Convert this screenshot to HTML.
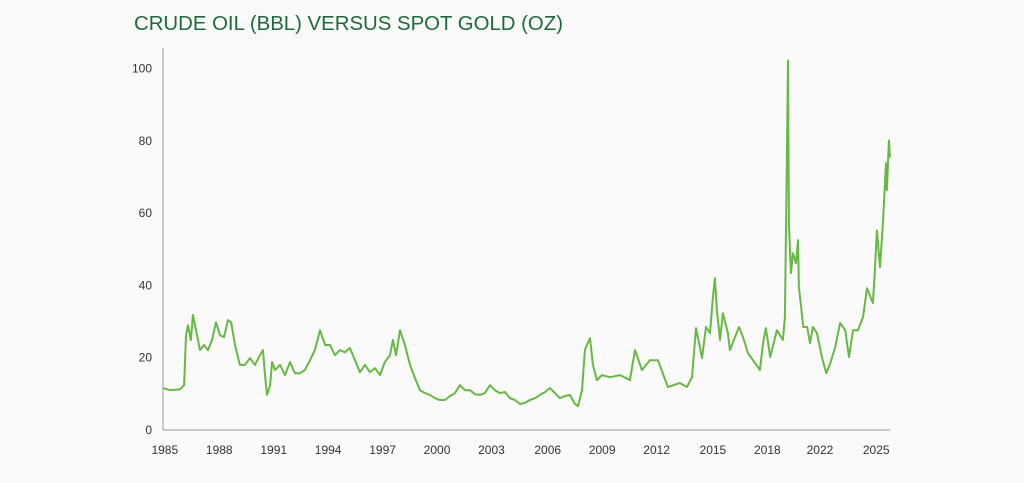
<!DOCTYPE html>
<html><head><meta charset="utf-8"><style>
body{margin:0;background:#fafafa;width:1024px;height:478px;overflow:hidden;font-family:"Liberation Sans",sans-serif}
</style></head><body>
<svg id="chart" width="1024" height="478" xmlns="http://www.w3.org/2000/svg">
<rect width="1024" height="478" fill="#fafafa"/>
<text x="134" y="30" font-size="20" textLength="429" lengthAdjust="spacingAndGlyphs" fill="#1e6b38">CRUDE OIL (BBL) VERSUS SPOT GOLD (OZ)</text>
<g id="axes"></g>
<path id="series" fill="none" stroke="#68b846" stroke-width="2" stroke-linejoin="round"/>
</svg>
<script>
const times=[1985.00,1985.39,1985.94,1986.16,1986.27,1986.38,1986.54,1986.65,1986.82,1987.04,1987.26,1987.48,1987.70,1987.92,1988.14,1988.36,1988.58,1988.75,1988.97,1989.24,1989.52,1989.79,1990.07,1990.34,1990.51,1990.62,1990.73,1990.90,1991.01,1991.17,1991.45,1991.72,1992.00,1992.27,1992.55,1992.82,1993.10,1993.37,1993.65,1993.93,1994.20,1994.48,1994.75,1995.03,1995.30,1995.58,1995.85,1996.13,1996.40,1996.68,1996.96,1997.23,1997.51,1997.67,1997.84,1998.06,1998.33,1998.61,1998.88,1999.16,1999.44,1999.71,1999.99,2000.26,2000.54,2000.81,2001.09,2001.36,2001.64,2001.91,2002.19,2002.47,2002.74,2003.02,2003.29,2003.57,2003.84,2004.12,2004.39,2004.67,2004.94,2005.22,2005.50,2005.77,2006.05,2006.32,2006.60,2006.87,2007.15,2007.42,2007.70,2007.87,2008.09,2008.25,2008.36,2008.53,2008.69,2008.91,2009.19,2009.63,2010.18,2010.73,2011.01,2011.39,2011.83,2012.27,2012.82,2013.48,2013.87,2014.15,2014.37,2014.70,2014.92,2015.14,2015.30,2015.41,2015.52,2015.69,2015.85,2016.13,2016.24,2016.52,2016.74,2016.96,2017.23,2017.51,2017.89,2018.06,2018.22,2018.46,2018.83,2019.16,2019.27,2019.38,2019.44,2019.49,2019.60,2019.71,2019.88,2019.99,2020.04,2020.28,2020.50,2020.65,2020.81,2021.03,2021.31,2021.55,2021.77,2022.04,2022.31,2022.59,2022.80,2023.02,2023.29,2023.57,2023.79,2024.12,2024.23,2024.34,2024.51,2024.67,2024.84,2024.89,2025.00,2025.06];
const ratios=[11.6,11.0,11.3,12.4,26.2,29.0,24.9,31.8,27.6,22.1,23.5,22.1,24.9,29.8,26.2,25.7,30.4,29.8,23.5,18.0,18.0,19.9,18.0,20.7,22.1,15.2,9.7,12.4,18.8,16.6,18.0,15.2,18.8,15.7,15.7,16.6,19.3,22.1,27.6,23.5,23.5,20.7,22.1,21.5,22.7,19.3,16.0,18.0,16.0,17.1,15.2,18.8,20.7,24.9,20.7,27.6,23.5,18.0,14.4,11.0,10.2,9.7,8.8,8.3,8.3,9.4,10.2,12.4,11.0,11.0,9.9,9.7,10.2,12.4,11.0,10.2,10.5,8.8,8.3,7.2,7.5,8.3,8.8,9.7,10.5,11.6,10.2,8.8,9.4,9.7,7.2,6.6,11.0,22.1,23.5,25.4,18.0,13.8,15.2,14.6,15.2,13.8,22.1,16.6,19.3,19.3,11.9,13.0,11.9,14.6,28.2,19.9,28.5,26.8,36.7,42.0,33.1,24.9,32.3,26.8,22.1,25.7,28.5,25.7,21.3,19.3,16.6,24.0,28.2,20.2,27.6,24.9,31.2,75.4,102.2,57.2,43.4,48.9,46.1,52.5,39.5,28.5,28.5,24.0,28.5,26.8,20.2,15.7,18.5,22.9,29.6,27.6,20.2,27.6,27.6,31.2,39.2,35.1,44.2,55.2,45.0,57.2,73.8,66.3,80.1,75.4];
const tickLabels=["1985","1988","1991","1994","1997","2000","2003","2006","2009","2012","2015","2018","2022","2025"];
const tickTimes=[1985.1,1988.1,1991.1,1994.1,1997.1,2000.1,2003.1,2006.2,2009.2,2012.2,2015.3,2018.3,2021.2,2024.3];
const yTicks=[0,20,40,60,80,100];

const X0=163,X1=890,Y0=430,Y1=68.5;
const tMin=1985,tMax=2025.06;
const xs=t=>X0+(t-tMin)/(tMax-tMin)*(X1-X0);
const ys=v=>Y0-v/100*(Y0-Y1);
const NS="http://www.w3.org/2000/svg";
const g=document.getElementById('axes');
function mk(tag,attrs){const e=document.createElementNS(NS,tag);for(const k in attrs)e.setAttribute(k,attrs[k]);g.appendChild(e);return e;}
let yl=mk('line',{x1:X0,y1:48,x2:X0,y2:Y0,stroke:'#aaa','stroke-width':1.2});


let xl=mk('line',{x1:X0,y1:Y0,x2:X1,y2:Y0,stroke:'#aaa','stroke-width':1.2});


yTicks.forEach(v=>{
  const t=mk('text',{x:152,y:ys(v)+4,'font-size':12,fill:'#333','text-anchor':'end'});
  t.textContent=v;
  
  
});
tickLabels.forEach((l,i)=>{
  const t=mk('text',{x:xs(tickTimes[i]),y:454,'font-size':12,fill:'#333','text-anchor':'middle'});
  t.textContent=l;
  
  
});
document.getElementById('series').setAttribute('d',times.map((t,i)=>(i?'L':'M')+xs(t).toFixed(1)+' '+ys(ratios[i]).toFixed(1)).join(''));
</script>
</body></html>
